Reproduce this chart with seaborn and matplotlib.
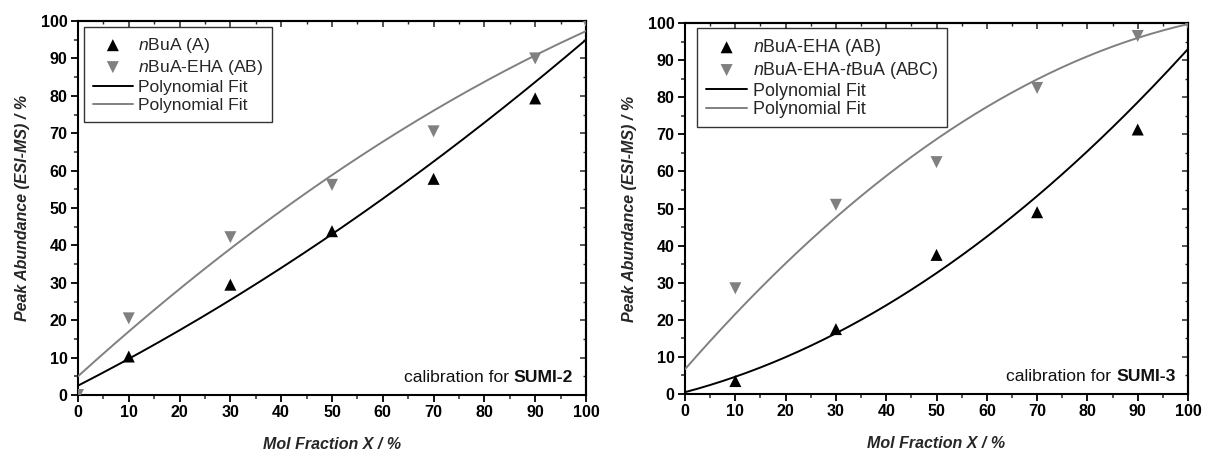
import numpy as np
import matplotlib
matplotlib.use("Agg")
import matplotlib.pyplot as plt
import seaborn as sns
from matplotlib.offsetbox import TextArea, HPacker, AnchoredOffsetbox
from matplotlib.ticker import MultipleLocator

# ---- data ----
x_pts = [10, 30, 50, 70, 90]
x_pts_ext = [0, 10, 30, 50, 70, 90, 100]

# left panel (SUMI-2)
left_A = [10.3, 29.5, 43.8, 57.8, 79.3]
left_AB = [0, 20.5, 42.2, 56.2, 70.5, 90.0, 100]
left_fit_A = [2.5, 0.695, 0.0023]       # c0, c1, c2
left_fit_AB = [5.0, 1.229, -0.00306]

# right panel (SUMI-3)
right_AB = [3.5, 17.5, 37.5, 49.0, 71.3]
right_ABC = [28.5, 51.0, 62.5, 82.5, 96.5]
right_fit_AB = [0.5, 0.359, 0.00566]
right_fit_ABC = [6.7, 1.55, -0.0062]

left_labels = ["$n$BuA (A)", "$n$BuA-EHA (AB)", "Polynomial Fit", "Polynomial Fit"]
right_labels = ["$n$BuA-EHA (AB)", "$n$BuA-EHA-$t$BuA (ABC)", "Polynomial Fit", "Polynomial Fit"]
x_ticks = list(range(0, 101, 10))
y_ticks = list(range(0, 101, 10))

GRAY = "#808080"

sns.set_style("ticks")
plt.rcParams["font.family"] = ["Liberation Sans", "DejaVu Sans"]
plt.rcParams["mathtext.fontset"] = "custom"
plt.rcParams["mathtext.rm"] = "Liberation Sans"
plt.rcParams["mathtext.it"] = "Liberation Sans:italic"
plt.rcParams["mathtext.bf"] = "Liberation Sans:bold"

fig = plt.figure(figsize=(12.05, 4.53), dpi=100)
ax1 = fig.add_axes([0.0647, 0.128, 0.4216, 0.8256])
ax2 = fig.add_axes([0.5685, 0.1302, 0.4174, 0.819])

xs = np.linspace(0, 100, 201)


def poly(c, x):
    return c[0] + c[1] * x + c[2] * x ** 2


def panel(ax, xa, ya, xb, yb, fa, fb, labels, tag, leg_anchor, leg_fs, leg_sp):
    sns.scatterplot(x=xa, y=ya, marker="^", s=75, color="black",
                    edgecolor="none", ax=ax, label=labels[0], zorder=4)
    sns.scatterplot(x=xb, y=yb, marker="v", s=75, color=GRAY,
                    edgecolor="none", ax=ax, label=labels[1], zorder=4)
    sns.lineplot(x=xs, y=poly(fa, xs), color="black", lw=1.4, ax=ax,
                 label=labels[2], zorder=3)
    sns.lineplot(x=xs, y=poly(fb, xs), color=GRAY, lw=1.4, ax=ax,
                 label=labels[3], zorder=3)
    ax.set_xlim(0, 100)
    ax.set_ylim(0, 100)
    ax.set_xticks(x_ticks)
    ax.set_yticks(y_ticks)
    ax.xaxis.set_minor_locator(MultipleLocator(5))
    ax.yaxis.set_minor_locator(MultipleLocator(5))
    for s in ax.spines.values():
        s.set_visible(True)
        s.set_linewidth(1.5)
        s.set_color("black")
    ax.tick_params(which="major", direction="out", length=5, width=1.3,
                   labelsize=11.6, colors="black", pad=2.5)
    ax.tick_params(which="minor", direction="out", length=3, width=1.1)
    for lab in ax.get_xticklabels() + ax.get_yticklabels():
        lab.set_fontweight("bold")
    # mirrored ticks on top/right, inward
    sec = ax.secondary_xaxis("top")
    sec.set_xticks(x_ticks)
    sec.xaxis.set_minor_locator(MultipleLocator(5))
    sec.set_xticklabels([])
    sec.tick_params(which="major", direction="in", length=4, width=1.1)
    sec.tick_params(which="minor", direction="in", length=2.5, width=1.0)
    sec2 = ax.secondary_yaxis("right")
    sec2.set_yticks(y_ticks)
    sec2.yaxis.set_minor_locator(MultipleLocator(5))
    sec2.set_yticklabels([])
    sec2.tick_params(which="major", direction="in", length=4, width=1.1)
    sec2.tick_params(which="minor", direction="in", length=2.5, width=1.0)
    for s in list(sec.spines.values()) + list(sec2.spines.values()):
        s.set_linewidth(1.5)
    ax.set_xlabel("Mol Fraction X / %", fontsize=11.5, fontweight="bold",
                  style="italic", labelpad=12)
    ax.set_ylabel("Peak Abundance (ESI-MS) / %", fontsize=11.5,
                  fontweight="bold", style="italic", labelpad=8)
    handles, labs = ax.get_legend_handles_labels()
    leg = ax.legend(handles, labs, loc="upper left", fontsize=leg_fs,
                    bbox_to_anchor=leg_anchor, bbox_transform=ax.transAxes,
                    frameon=True, fancybox=False, edgecolor="black",
                    borderpad=0.5, labelspacing=leg_sp, handlelength=2.3,
                    handletextpad=0.3, borderaxespad=0)
    leg.get_frame().set_linewidth(1.0)
    ta1 = TextArea("calibration for ", textprops=dict(fontsize=12.6, color="#111111"))
    ta2 = TextArea(tag, textprops=dict(fontsize=12.6, fontweight="bold", color="#111111"))
    box = HPacker(children=[ta1, ta2], align="baseline", pad=0, sep=0)
    anc = AnchoredOffsetbox(loc="lower right", child=box, frameon=False,
                            bbox_to_anchor=(0.975, 0.028), bbox_transform=ax.transAxes,
                            borderpad=0, pad=0)
    ax.add_artist(anc)


panel(ax1, x_pts, left_A, x_pts_ext, left_AB, left_fit_A, left_fit_AB,
      left_labels, "SUMI-2", (6 / 508, 1 - 6 / 374), 12.6, 0.17)
panel(ax2, x_pts, right_AB, x_pts + [100], right_ABC + [100], right_fit_AB,
      right_fit_ABC, right_labels, "SUMI-3", (12 / 503, 1 - 5 / 371), 12.9, 0.1)

fig.savefig("out.png", dpi=100)
